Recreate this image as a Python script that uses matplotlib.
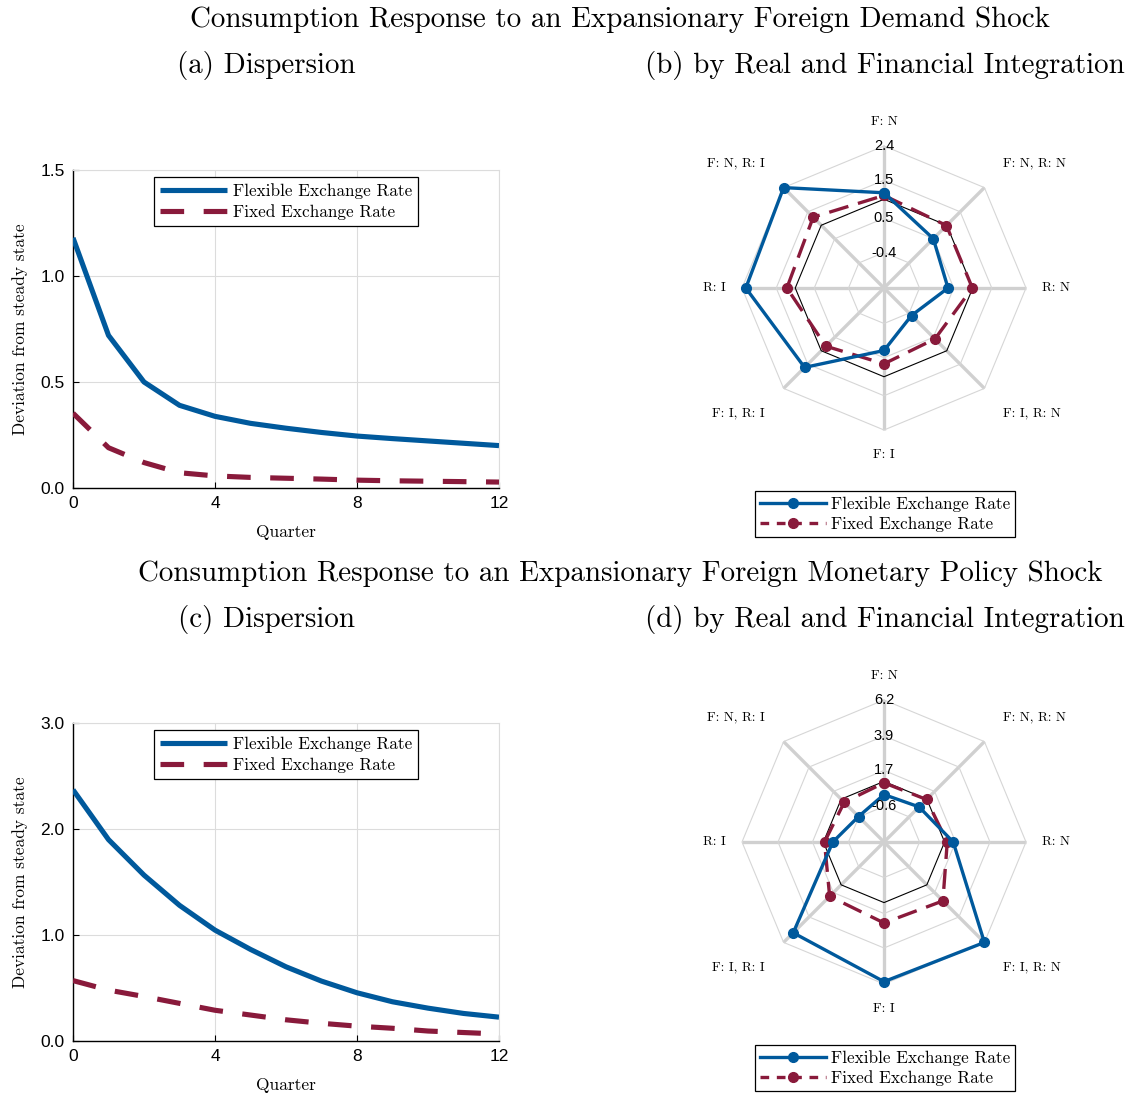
import numpy as np
import matplotlib
matplotlib.use("Agg")
import matplotlib.pyplot as plt
from matplotlib.lines import Line2D

# ---------------- data ----------------
quarters = list(range(13))

demand_flex = [1.18, 0.72, 0.50, 0.39, 0.338, 0.305, 0.282, 0.262, 0.245, 0.233, 0.222, 0.211, 0.200]
demand_fixed = [0.353, 0.19, 0.12, 0.072, 0.057, 0.05, 0.046, 0.042, 0.037, 0.034, 0.032, 0.030, 0.028]

monetary_flex = [2.37, 1.90, 1.565, 1.28, 1.046, 0.864, 0.70, 0.565, 0.455, 0.37, 0.31, 0.26, 0.225]
monetary_fixed = [0.57, 0.48, 0.42, 0.355, 0.29, 0.245, 0.20, 0.167, 0.14, 0.12, 0.094, 0.08, 0.066]

radar_categories = ["F: N", "F: N, R: N", "R: N", "F: I, R: N",
                    "F: I", "F: I, R: I", "R: I", "F: N, R: I"]

demand_radar_flex = [1.17, 0.50, 0.35, -0.31, 0.31, 1.62, 2.30, 2.40]
demand_radar_fixed = [1.10, 0.99, 0.99, 0.56, 0.66, 0.83, 1.22, 1.30]
demand_radar_limits = [-1.333, 2.4]
demand_radar_ticks = [-0.4, 0.5, 1.5, 2.4]
demand_radar_ticklabels = ["-0.4", "0.5", "1.5", "2.4"]

monetary_radar_flex = [0.16, 0.30, 1.55, 6.20, 6.05, 5.33, 0.40, -0.57]
monetary_radar_fixed = [0.91, 0.97, 1.17, 2.45, 2.30, 2.04, 0.93, 0.72]
monetary_radar_limits = [-2.87, 6.2]
monetary_radar_ticks = [-0.6, 1.7, 3.9, 6.2]
monetary_radar_ticklabels = ["-0.6", "1.7", "3.9", "6.2"]

reference_level = 1.0

series_labels = ["Flexible Exchange Rate", "Fixed Exchange Rate"]
section_titles = ["Consumption Response to an Expansionary Foreign Demand Shock",
                  "Consumption Response to an Expansionary Foreign Monetary Policy Shock"]
panel_titles = [["(a) Dispersion", "(b) by Real and Financial Integration"],
                ["(c) Dispersion", "(d) by Real and Financial Integration"]]

# ---------------- style ----------------
BLUE = "#00599C"
RED = "#891A3B"
SERIF = "cmr10"
SANS = "Liberation Sans"

W, H = 1129, 1095
fig = plt.figure(figsize=(W / 100, H / 100), dpi=100)


def fx(px):
    return px / W


def fy(py):
    return 1 - py / H


def line_panel(rect, flex, fixed, ylim, yticks):
    ax = fig.add_axes(rect)
    ax.plot(quarters, flex, color=BLUE, lw=3.7, solid_capstyle="butt",
            label=series_labels[0], zorder=3)
    ax.plot(quarters, fixed, color=RED, lw=3.7, linestyle=(0, (4.6, 3.8)),
            dash_capstyle="butt", label=series_labels[1], zorder=3)
    ax.set_xlim(0, 12)
    ax.set_ylim(*ylim)
    ax.set_xticks([0, 4, 8, 12])
    ax.set_yticks(yticks)
    ax.set_yticklabels([f"{v:.1f}" for v in yticks])
    ax.grid(True, color="#dcdcdc", lw=0.8)
    ax.set_axisbelow(True)
    for s in ["top", "right"]:
        ax.spines[s].set_color("#dcdcdc")
        ax.spines[s].set_linewidth(0.8)
    for s in ["left", "bottom"]:
        ax.spines[s].set_linewidth(1.0)
    ax.tick_params(direction="in", length=4, width=0.8, top=False, right=False,
                   labelsize=12.5, pad=6)
    for lab in ax.get_xticklabels() + ax.get_yticklabels():
        lab.set_fontfamily(SANS)
    ax.set_xlabel("Quarter", fontfamily=SERIF, fontsize=12.5)
    ax.set_ylabel("Deviation from steady state", fontfamily=SERIF, fontsize=12.5)
    ax.xaxis.set_label_coords(0.5, -0.138)
    ax.xaxis.label.set_va("center")
    ax.yaxis.set_label_coords(-0.124, 0.5)
    ax.yaxis.label.set_va("center")
    leg = ax.legend(loc="upper center", bbox_to_anchor=(0.5, 0.978),
                    borderaxespad=0, fancybox=False, framealpha=1,
                    edgecolor="black", handlelength=3.9, handletextpad=0.3,
                    borderpad=0.35, labelspacing=0.3,
                    prop={"family": SERIF, "size": 12.4})
    leg.get_frame().set_linewidth(0.9)
    return ax


def radar_panel(center, flex, fixed, limits, ticks, ticklabels, legend_y):
    cx, cy = center
    R = 142
    ax = fig.add_axes([fx(cx - R), fy(cy + R), fx(2 * R), 2 * R / H],
                      projection="polar")
    ax.set_theta_offset(np.pi / 2)
    ax.set_theta_direction(-1)
    rmin, rmax = limits
    ax.set_ylim(rmin, rmax)
    ax.grid(False)
    ax.set_xticks([])
    ax.set_yticks([])
    ax.spines["polar"].set_visible(False)
    ax.patch.set_visible(False)

    n = len(radar_categories)
    theta = np.arange(n) * 2 * np.pi / n
    theta_c = np.append(theta, theta[0])

    # spokes
    for t in theta:
        ax.plot([t, t], [rmin, rmax], color="#d0d0d0", lw=2.4, zorder=1,
                solid_capstyle="butt", clip_on=False)
    # rings
    for lv in ticks:
        ax.plot(theta_c, [lv] * (n + 1), color="#d6d6d6", lw=0.8, zorder=1,
                clip_on=False)
    # reference ring
    ax.plot(theta_c, [reference_level] * (n + 1), color="black", lw=0.8, zorder=2)

    # ring labels
    for lv, lab in zip(ticks, ticklabels):
        ax.text(0, lv, lab, ha="center", va="center", fontsize=10.5,
                fontfamily=SANS, zorder=5)

    # category labels
    span = rmax - rmin
    for t, lab in zip(theta, radar_categories):
        deg = np.degrees(t) % 360
        if deg in (0.0, 180.0):
            r = rmin + 1.13 * span
            ha = "center"
            va = "bottom" if deg == 0 else "top"
        elif deg in (90.0, 270.0):
            r = rmin + 1.115 * span
            ha = "left" if deg == 90 else "right"
            va = "center"
        else:
            r = rmin + 1.185 * span
            ha = "left" if deg < 180 else "right"
            va = "bottom" if (deg < 90 or deg > 270) else "top"
        ax.text(t, r, lab, ha=ha, va=va, fontsize=9.6, fontfamily=SERIF,
                clip_on=False)

    f_c = np.append(flex, flex[0])
    x_c = np.append(fixed, fixed[0])
    ax.plot(theta_c, x_c, color=RED, lw=2.4, linestyle=(0, (6.0, 3.0)),
            marker="o", markersize=7, zorder=3, clip_on=False)
    ax.plot(theta_c, f_c, color=BLUE, lw=2.4, marker="o", markersize=7,
            zorder=4, clip_on=False)

    handles = [Line2D([], [], color=BLUE, lw=2.4, marker="o", markersize=7),
               Line2D([], [], color=RED, lw=2.4, linestyle=(0, (2.6, 2.3)),
                      marker="o", markersize=7)]
    leg = fig.legend(handles, series_labels, loc="center",
                     bbox_to_anchor=(fx(885), fy(legend_y)),
                     fancybox=False, framealpha=1, edgecolor="black",
                     handlelength=3.8, handletextpad=0.3, borderpad=0.3,
                     labelspacing=0.2, prop={"family": SERIF, "size": 12.4})
    leg.get_frame().set_linewidth(0.9)
    return ax


# top row
line_panel([fx(73), fy(488), fx(426), 318 / H], demand_flex, demand_fixed,
           (0, 1.5), [0, 0.5, 1.0, 1.5])
radar_panel((884, 288), demand_radar_flex, demand_radar_fixed,
            demand_radar_limits, demand_radar_ticks, demand_radar_ticklabels, 514)

# bottom row
line_panel([fx(73), fy(1041), fx(426), 318 / H], monetary_flex, monetary_fixed,
           (0, 3.0), [0, 1.0, 2.0, 3.0])
radar_panel((884, 842), monetary_radar_flex, monetary_radar_fixed,
            monetary_radar_limits, monetary_radar_ticks, monetary_radar_ticklabels, 1068)

# titles
for k, off in enumerate([0, 554]):
    fig.text(fx(620), fy(26.7 + off), section_titles[k], ha="center",
             va="baseline", fontfamily=SERIF, fontsize=20.9)
    fig.text(fx(266), fy(73.3 + off), panel_titles[k][0], ha="center",
             va="baseline", fontfamily=SERIF, fontsize=20.9)
    fig.text(fx(885), fy(73.3 + off), panel_titles[k][1], ha="center",
             va="baseline", fontfamily=SERIF, fontsize=20.9)

fig.savefig("out.png", dpi=100)
